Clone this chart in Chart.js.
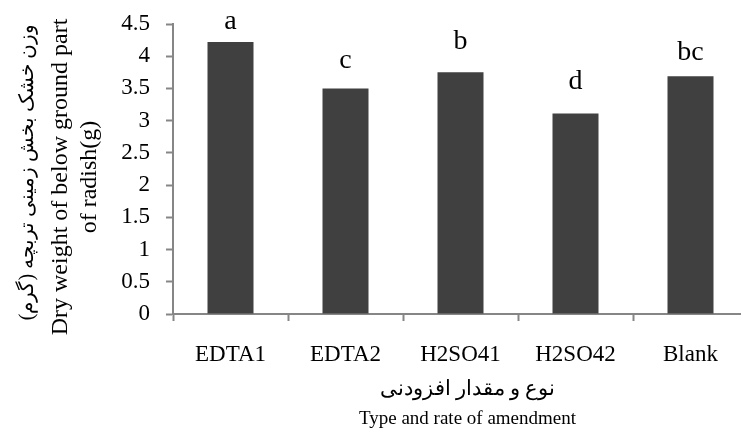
<!DOCTYPE html>
<html>
<head>
<meta charset="utf-8">
<script src="https://cdn.jsdelivr.net/npm/chart.js@4.4.0/dist/chart.umd.min.js"></script>
<style>
  html, body { margin: 0; padding: 0; background: #fff; overflow: hidden; }
  #wrap { width: 741px; height: 428px; overflow: hidden; }
</style>
</head>
<body>
<div id="wrap"><canvas id="chart" width="749" height="428"></canvas></div>
<script>
var categories = ['EDTA1', 'EDTA2', 'H2SO41', 'H2SO42', 'Blank'];
var dryWeight = [4.22, 3.50, 3.75, 3.11, 3.69];
var groupLetters = ['a', 'c', 'b', 'd', 'bc'];
var letterLevels = [4.42, 3.82, 4.11, 3.49, 3.94];
var yTicks = [0, 0.5, 1, 1.5, 2, 2.5, 3, 3.5, 4, 4.5];
var yTitle = ['وزن خشک بخش زمینی تربچه (گرم)', 'Dry weight of below ground part', 'of radish(g)'];
var xTitle = ['نوع و مقدار افزودنی', 'Type and rate of amendment'];

var serif = '"Liberation Serif", "Times New Roman", serif';
var axisGray = '#868686';

// letters of the mean comparison test above each bar
var letterPlugin = {
  id: 'groupLetters',
  afterDatasetsDraw: function(chart) {
    var ctx = chart.ctx;
    var xScale = chart.scales.x;
    var yScale = chart.scales.y;
    ctx.save();
    ctx.font = '28px ' + serif;
    ctx.fillStyle = '#000';
    ctx.textAlign = 'center';
    ctx.textBaseline = 'alphabetic';
    for (var i = 0; i < groupLetters.length; i++) {
      ctx.fillText(groupLetters[i], xScale.getPixelForValue(i), yScale.getPixelForValue(letterLevels[i]));
    }
    ctx.restore();
  }
};

// axis titles: persian line + english line(s), each with its own size
function drawLine(ctx, text, font, x, y, rotate, rtl, baseline) {
  ctx.save();
  ctx.translate(x, y);
  if (rotate) ctx.rotate(-Math.PI / 2);
  ctx.font = font;
  ctx.direction = rtl ? 'rtl' : 'ltr';
  ctx.textAlign = 'center';
  ctx.textBaseline = baseline || 'middle';
  ctx.fillStyle = '#000';
  ctx.fillText(text, 0, 0);
  ctx.restore();
}

var titlePlugin = {
  id: 'axisTitles',
  afterDraw: function(chart) {
    var ctx = chart.ctx;
    var area = chart.chartArea;
    var midY = (area.top + area.bottom) / 2;
    drawLine(ctx, yTitle[0], '20px ' + serif, area.left - 145, midY + 3, true, true);
    drawLine(ctx, yTitle[1], '24px ' + serif, area.left - 112, midY + 8, true, false);
    drawLine(ctx, yTitle[2], '24px ' + serif, area.left - 83, midY + 8, true, false);

    var midX = (area.left + area.right) / 2 + 7;
    drawLine(ctx, xTitle[0], '21px ' + serif, midX, area.bottom + 75, false, true);
    drawLine(ctx, xTitle[1], '19px ' + serif, midX, area.bottom + 110, false, false, 'alphabetic');
  }
};

var ctx = document.getElementById('chart').getContext('2d');
var chart = new Chart(ctx, {
  type: 'bar',
  data: {
    labels: categories,
    datasets: [{
      data: dryWeight,
      backgroundColor: '#404040',
      borderWidth: 0,
      barPercentage: 0.4,
      categoryPercentage: 1
    }]
  },
  options: {
    responsive: false,
    animation: false,
    layout: { padding: { top: 24, right: 1, left: 0, bottom: 0 } },
    plugins: { legend: { display: false }, tooltip: { enabled: false } },
    scales: {
      x: {
        grid: { drawOnChartArea: false, drawTicks: true, tickLength: 7, tickColor: axisGray, tickWidth: 2, offset: true },
        border: { display: true, color: axisGray, width: 2 },
        ticks: { color: '#000', font: { family: serif, size: 23 }, padding: 20, maxRotation: 0, autoSkip: false },
        afterFit: function(scale) { scale.height = 114; }
      },
      y: {
        min: 0,
        max: 4.5,
        grid: { drawOnChartArea: false, drawTicks: true, tickLength: 7, tickColor: axisGray, tickWidth: 2 },
        border: { display: true, color: axisGray, width: 2 },
        ticks: {
          color: '#000',
          font: { family: serif, size: 23 },
          padding: 16,
          callback: function(value) { return String(value); }
        },
        afterBuildTicks: function(scale) {
          scale.ticks = yTicks.map(function(v) { return { value: v }; });
        },
        afterFit: function(scale) {
          scale.width = 173;
          scale.paddingTop = 0;
          scale.paddingBottom = 0;
        }
      }
    }
  },
  plugins: [letterPlugin, titlePlugin]
});
</script>
</body>
</html>
